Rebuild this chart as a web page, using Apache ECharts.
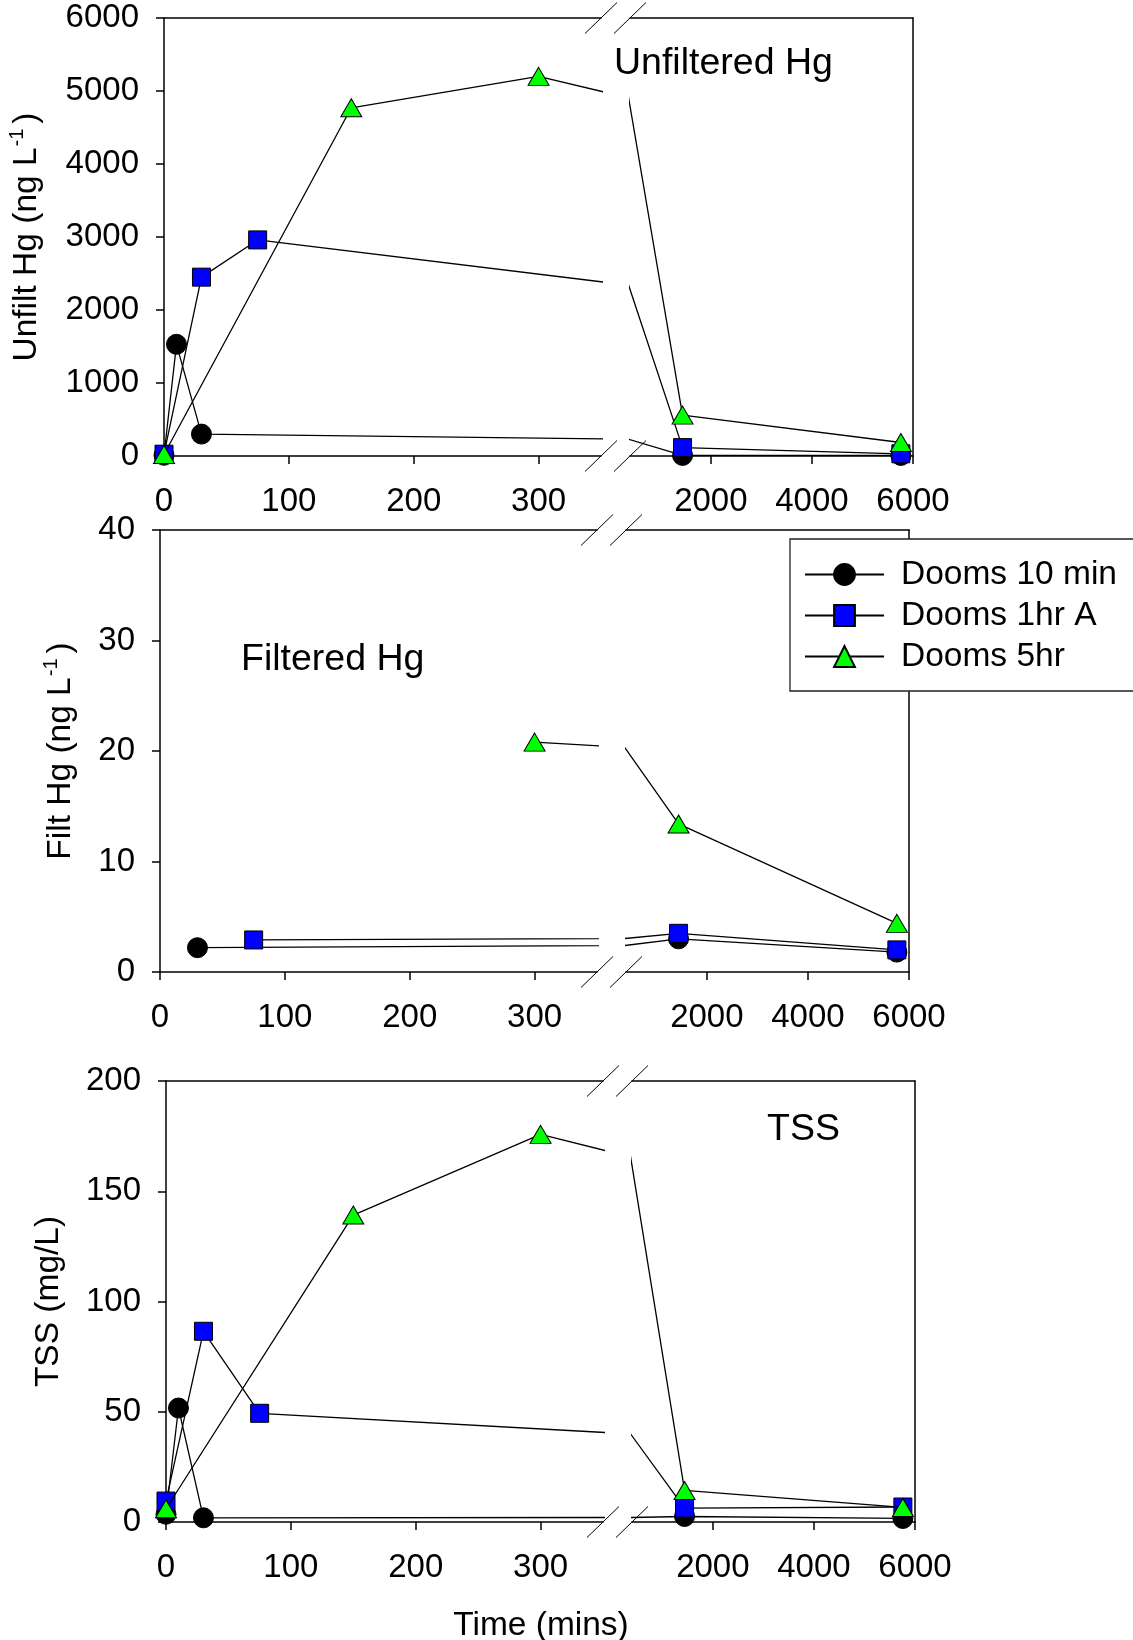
<!DOCTYPE html>
<html>
<head>
<meta charset="utf-8">
<script src="https://cdn.jsdelivr.net/npm/echarts@6/dist/echarts.min.js"></script>
<style>
html,body{margin:0;padding:0;background:#fff;}
#chart{width:1133px;height:1640px;}
</style>
</head>
<body>
<div id="chart"></div>
<script>
// ---------- DATA ----------
const seriesNames = ['Dooms 10 min', 'Dooms 1hr A', 'Dooms 5hr'];
const leftTicks = [0, 100, 200, 300];
const rightTicks = [2000, 4000, 6000];

// Unfiltered Hg (ng/L)
const uh10minT = [0, 10, 30, 1440, 5760];
const uh10minV = [10, 1530, 300, 8, 8];
const uh1hrT = [0, 30, 75, 1440, 5760];
const uh1hrV = [25, 2450, 2960, 115, 30];
const uh5hrT = [0, 150, 300, 1440, 5760];
const uh5hrV = [20, 4770, 5200, 560, 185];

// Filtered Hg (ng/L)
const fh10minT = [30, 1440, 5760];
const fh10minV = [2.2, 3.0, 1.8];
const fh1hrT = [75, 1440, 5760];
const fh1hrV = [2.9, 3.5, 2.0];
const fh5hrT = [300, 1440, 5760];
const fh5hrV = [20.8, 13.4, 4.4];

// TSS (mg/L)
const tss10minT = [0, 10, 30, 1440, 5760];
const tss10minV = [3.5, 51.7, 1.9, 2.5, 1.6];
const tss1hrT = [0, 30, 75, 1440, 5760];
const tss1hrV = [9.5, 86.5, 49.3, 6.3, 6.8];
const tss5hrT = [0, 150, 300, 1440, 5760];
const tss5hrV = [6, 139.2, 175.8, 14.3, 6.6];

// ---------- LAYOUT / STYLE ----------
const FONT = 'Liberation Sans, Arial, sans-serif';
const LW = 437, GAP = 29, RW = 283;
const BREAK_L = 350, BREAK_R = 400, XMAX = 6000;
const panels = [
  { top: 18, h: 438, x0: 164, ymax: 6000, yint: 1000, nameGap: 117,
    name: 'Unfilt Hg (ng L{s|-1})',
    data: [[uh10minT, uh10minV], [uh1hrT, uh1hrV], [uh5hrT, uh5hrV]] },
  { top: 530, h: 442, x0: 160, ymax: 40, yint: 10, nameGap: 79,
    name: 'Filt Hg (ng L{s|-1})',
    data: [[fh10minT, fh10minV], [fh1hrT, fh1hrV], [fh5hrT, fh5hrV]] },
  { top: 1081, h: 441, x0: 166, ymax: 200, yint: 50, nameGap: 97,
    name: 'TSS (mg/L)',
    data: [[tss10minT, tss10minV], [tss1hrT, tss1hrV], [tss5hrT, tss5hrV]] }
];
const markerStyles = [
  { symbol: 'circle', size: 20, color: '#000000' },
  { symbol: 'rect', size: 18, color: '#0000ff' },
  { symbol: 'triangle', size: [21, 18], color: '#00ff00' }
];

const axisLineStyle = { show: true, onZero: false, lineStyle: { color: '#000', width: 1.5 } };
const tickStyle = { show: true, length: 8, lineStyle: { color: '#000', width: 1.5 } };
const plain = v => String(v);
const labelBase = { color: '#000', fontSize: 33, fontFamily: FONT, formatter: plain };

const grid = [], xAxis = [], yAxis = [], series = [], graphic = [];

function pairs(t, v) { return t.map((x, i) => [x, v[i]]); }

panels.forEach((p, pi) => {
  const gL = grid.length;
  grid.push({ left: p.x0, top: p.top, width: LW, height: p.h });
  grid.push({ left: p.x0 + LW + GAP, top: p.top, width: RW, height: p.h });
  const xb = xAxis.length;
  // bottom left
  xAxis.push({ type: 'value', gridIndex: gL, position: 'bottom', min: 0, max: BREAK_L,
    axisLine: axisLineStyle,
    axisTick: Object.assign({ customValues: leftTicks }, tickStyle),
    axisLabel: Object.assign({ customValues: leftTicks, margin: 29 }, labelBase),
    splitLine: { show: false } });
  // bottom right
  xAxis.push({ type: 'value', gridIndex: gL + 1, position: 'bottom', min: BREAK_R, max: XMAX,
    axisLine: axisLineStyle,
    axisTick: Object.assign({ customValues: rightTicks }, tickStyle),
    axisLabel: Object.assign({ customValues: rightTicks, margin: 29 }, labelBase),
    splitLine: { show: false } });
  // top frame lines
  [gL, gL + 1].forEach(gi => xAxis.push({ type: 'value', gridIndex: gi, position: 'top', min: 0, max: 1,
    axisLine: axisLineStyle, axisTick: { show: false }, axisLabel: { show: false }, splitLine: { show: false } }));
  const yb = yAxis.length;
  yAxis.push({ type: 'value', gridIndex: gL, position: 'left', min: 0, max: p.ymax, interval: p.yint,
    axisLine: axisLineStyle, axisTick: tickStyle,
    axisLabel: Object.assign({ margin: 25 }, labelBase),
    splitLine: { show: false },
    name: p.name, nameLocation: 'middle', nameRotate: 90, nameGap: p.nameGap,
    nameTextStyle: { color: '#000', fontSize: 33.5, fontFamily: FONT, lineHeight: 40,
      rich: { s: { fontSize: 20, fontFamily: FONT, color: '#000', verticalAlign: 'top', lineHeight: 8, padding: [0, 5, 0, 1] } } } });
  yAxis.push({ type: 'value', gridIndex: gL + 1, position: 'right', min: 0, max: p.ymax, interval: p.yint,
    axisLine: axisLineStyle, axisTick: { show: false }, axisLabel: { show: false }, splitLine: { show: false } });

  [0, 1].forEach(side => {
    p.data.forEach((d, k) => {
      const m = markerStyles[k];
      series.push({
        type: 'line', name: seriesNames[k],
        xAxisIndex: xb + side, yAxisIndex: yb + side,
        data: pairs(d[0], d[1]),
        clip: true, showAllSymbol: true, showSymbol: true,
        symbol: m.symbol, symbolSize: m.size,
        lineStyle: { color: '#000', width: 1.3 },
        itemStyle: { color: m.color, borderColor: '#000', borderWidth: 1 },
        emphasis: { disabled: true },
        animation: false,
        z: 2 + k
      });
    });
  });

  // axis break marks
  [p.x0 + LW, p.x0 + LW + GAP].forEach(cx => {
    [p.top, p.top + p.h].forEach(cy => {
      graphic.push({ type: 'line', silent: true, z: 10,
        shape: { x1: cx - 16, y1: cy + 15.5, x2: cx + 16, y2: cy - 15.5 },
        style: { stroke: '#000', lineWidth: 1 } });
    });
  });
});

// panel annotations and shared x title
graphic.push({ type: 'text', x: 614, y: 64, z: 10, style: { text: 'Unfiltered Hg', font: '37.5px ' + FONT, fill: '#000', align: 'left', verticalAlign: 'middle' } });
graphic.push({ type: 'text', x: 241, y: 660, z: 10, style: { text: 'Filtered Hg', font: '37.5px ' + FONT, fill: '#000', align: 'left', verticalAlign: 'middle' } });
graphic.push({ type: 'text', x: 767, y: 1130, z: 10, style: { text: 'TSS', font: '37.5px ' + FONT, fill: '#000', align: 'left', verticalAlign: 'middle' } });
graphic.push({ type: 'text', x: 541, y: 1626, z: 10, style: { text: 'Time (mins)', font: '33.5px ' + FONT, fill: '#000', align: 'center', verticalAlign: 'middle' } });

const chart = echarts.init(document.getElementById('chart'), null, { renderer: 'canvas' });
chart.setOption({
  animation: false,
  backgroundColor: '#fff',
  grid, xAxis, yAxis, series, graphic,
  legend: {
    data: seriesNames,
    orient: 'vertical',
    left: 790, top: 539,
    padding: [15, 40, 14, 14],
    itemWidth: 79, itemHeight: 26, itemGap: 0,
    backgroundColor: '#fff',
    borderColor: '#222', borderWidth: 1.3, borderRadius: 0,
    selectedMode: false,
    z: 20,
    textStyle: { color: '#000', fontSize: 33.5, fontFamily: FONT, lineHeight: 41, padding: [0, 0, 0, 12] }
  }
});
</script>
</body>
</html>
